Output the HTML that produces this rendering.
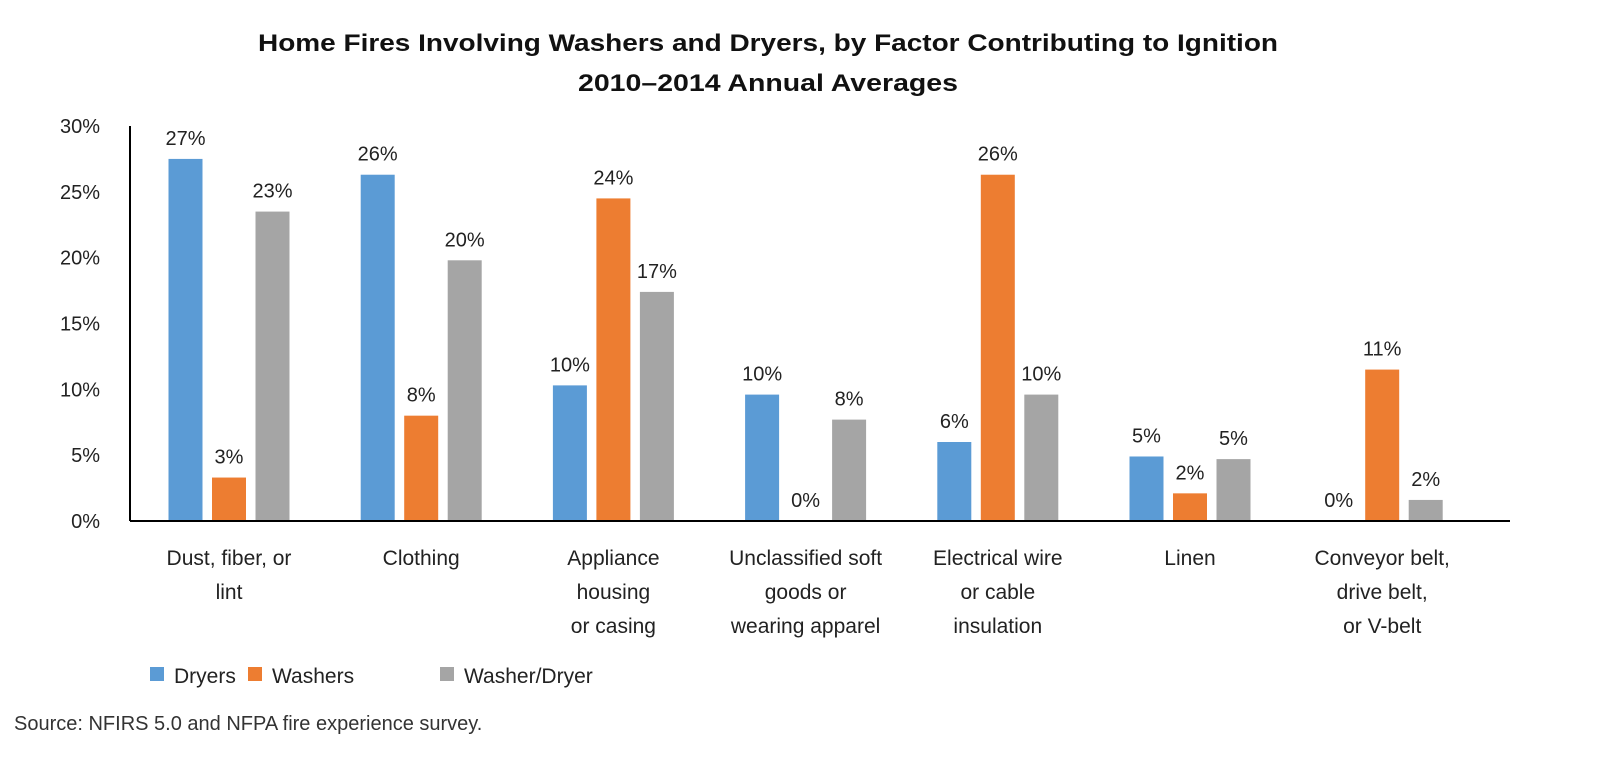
<!DOCTYPE html>
<html><head><meta charset="utf-8"><style>
body{margin:0;background:#fff;}
svg{display:block;font-family:"Liberation Sans",sans-serif;}
</style></head><body>
<svg id="c" width="1600" height="776">
<text x="768" y="51" text-anchor="middle" font-size="24" font-weight="bold" fill="#111" textLength="1020" lengthAdjust="spacingAndGlyphs">Home Fires Involving Washers and Dryers, by Factor Contributing to Ignition</text>
<text x="768" y="91" text-anchor="middle" font-size="24" font-weight="bold" fill="#111" textLength="380" lengthAdjust="spacingAndGlyphs">2010–2014 Annual Averages</text>
<g id="plot"></g>
<text x="14" y="730" font-size="20" fill="#333">Source: NFIRS 5.0 and NFPA fire experience survey.</text>
</svg>
<script>
const categories=[["Dust, fiber, or","lint"],["Clothing"],["Appliance","housing","or casing"],["Unclassified soft","goods or","wearing apparel"],["Electrical wire","or cable","insulation"],["Linen"],["Conveyor belt,","drive belt,","or V-belt"]];
const dryers=[27.5,26.3,10.3,9.6,6.0,4.9,0];
const washers=[3.3,8.0,24.5,0,26.3,2.1,11.5];
const washerDryer=[23.5,19.8,17.4,7.7,9.6,4.7,1.6];
const dryerLabels=["27%","26%","10%","10%","6%","5%","0%"];
const washerLabels=["3%","8%","24%","0%","26%","2%","11%"];
const wdLabels=["23%","20%","17%","8%","10%","5%","2%"];
const yTicks=[0,5,10,15,20,25,30];
const seriesNames=["Dryers","Washers","Washer/Dryer"];
const colors=["#5b9bd5","#ed7d31","#a5a5a5"];

const NS="http://www.w3.org/2000/svg";
const g=document.getElementById("plot");
const x0=130,x1=1510,y0=521,yTop=126,yMax=30;
const y=v=>y0-(v/yMax)*(y0-yTop);
const groupW=192.2;
const gx=i=>229+groupW*i;
function mk(tag,a){const e=document.createElementNS(NS,tag);for(const k in a)e.setAttribute(k,a[k]);g.appendChild(e);return e;}
yTicks.forEach(t=>{
  const e=mk("text",{x:100,y:y(t)+7,"text-anchor":"end","font-size":"20",fill:"#222"});
  e.textContent=t+"%";
  
  
});
const series=[dryers,washers,washerDryer];
const labels=[dryerLabels,washerLabels,wdLabels];
const bw=34,step=43.5;
categories.forEach((c,i)=>{
  series.forEach((s,j)=>{
    const cx=gx(i)+(j-1)*step;
    const r=mk("rect",{x:cx-bw/2,y:y(s[i]),width:bw,height:y0-y(s[i]),fill:colors[j]});
    
    
    const t=mk("text",{x:cx,y:y(s[i])-14,"text-anchor":"middle","font-size":"20",fill:"#222"});
    t.textContent=labels[j][i];
    
    
  });
  c.forEach((line,k)=>{
    const t=mk("text",{x:gx(i),y:565+k*34,"text-anchor":"middle","font-size":"21",fill:"#222"});
    t.textContent=line;
    
    
  });
});
const ax=mk("line",{x1:x0,y1:yTop,x2:x0,y2:y0,stroke:"#000","stroke-width":2});


const bx=mk("line",{x1:x0,y1:y0,x2:x1,y2:y0,stroke:"#000","stroke-width":2});


const lx=[150,248,440];
seriesNames.forEach((n,j)=>{
  const r=mk("rect",{x:lx[j],y:667,width:14,height:14,fill:colors[j]});
  
  
  const t=mk("text",{x:lx[j]+24,y:683,"font-size":"21",fill:"#222"});
  t.textContent=n;
  
  
});
</script>
</body></html>
